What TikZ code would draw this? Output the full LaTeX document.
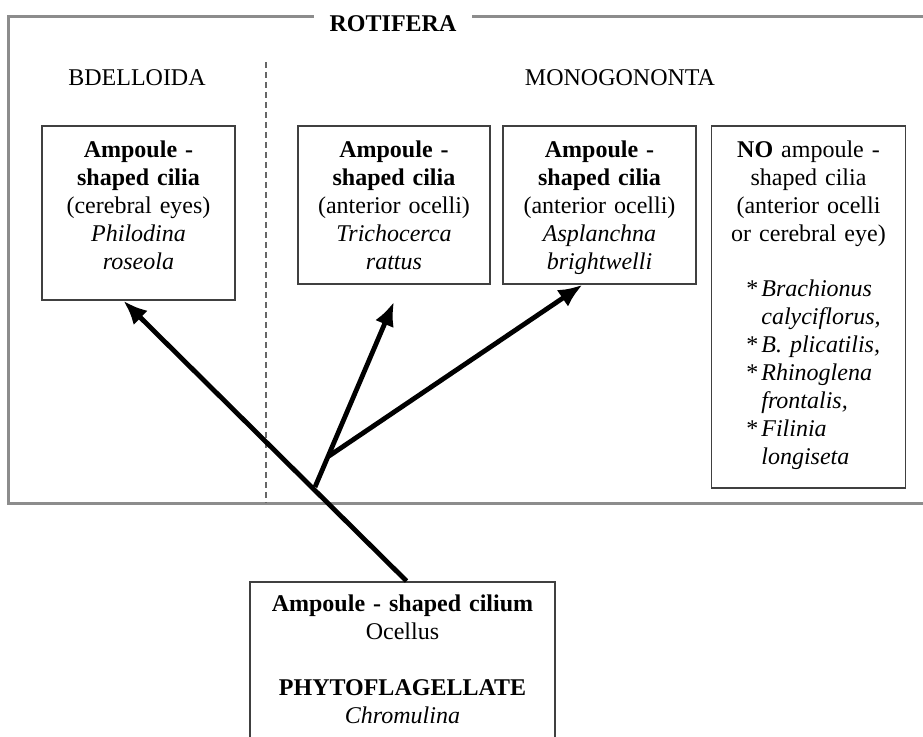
\documentclass[tikz,border=0pt]{standalone}
\usepackage{fontspec}
\setmainfont{Liberation Serif}
\usetikzlibrary{arrows.meta}

\newcommand{\spp}{\makebox[7.5pt][l]{*}}
\newcommand{\nospp}{\hspace*{7.5pt}}

\begin{document}
\begin{tikzpicture}[x=0.5pt, y=-0.5pt,
    taxon/.style={draw=black!75, line width=0.9pt, align=center, inner sep=0pt,
      anchor=north, text height=16pt, font=\fontsize{12}{14}\selectfont},
    grouptext/.style={font=\fontsize{12}{14}\selectfont},
    frameline/.style={draw=black!45, line width=1.5pt},
    branch/.style={line width=2.4pt, -{Latex[length=12pt, width=10pt]}}]
  \useasboundingbox (0, 0) rectangle (923, 736);

  \draw [frameline] (923, 16) to (8, 16) to (8, 503) to (923, 503);
  \node [grouptext, fill=white, inner xsep=8pt] (rotifera) at (393, 24) {\textbf{ROTIFERA}};
  \draw [dashed, dash pattern=on 3pt off 2pt, draw=black!60, line width=0.6pt] (266, 62) to (266, 503);

  \node [grouptext] (bdelloida) at (137, 78) {BDELLOIDA};
  \node [grouptext] (monogononta) at (620, 78) {MONOGONONTA};

  \node [taxon, text width=96.5pt, text depth=71pt] (philodina) at (138.5, 125)
    {\textbf{Ampoule -}\\ \textbf{shaped cilia}\\ (cerebral eyes)\\ \textit{Philodina}\\ \textit{roseola}};
  \node [taxon, text width=96pt, text depth=63pt] (trichocerca) at (394, 125)
    {\textbf{Ampoule -}\\ \textbf{shaped cilia}\\ (anterior ocelli)\\ \textit{Trichocerca}\\ \textit{rattus}};
  \node [taxon, text width=96.5pt, text depth=63pt] (asplanchna) at (599.5, 125)
    {\textbf{Ampoule -}\\ \textbf{shaped cilia}\\ (anterior ocelli)\\ \textit{Asplanchna}\\ \textit{brightwelli}};
  \node [taxon, text width=97pt, text depth=165pt] (noampoule) at (808.5, 125)
    {\textbf{NO} ampoule -\\ shaped cilia\\ (anterior ocelli\\ or cerebral eye)\\[14pt]
     \hspace*{5pt}\begin{tabular}{@{}l@{}}
       \spp\textit{Brachionus}\\
       \nospp\textit{calyciflorus,}\\
       \spp\textit{B. plicatilis,}\\
       \spp\textit{Rhinoglena}\\
       \nospp\textit{frontalis,}\\
       \spp\textit{Filinia}\\
       \nospp\textit{longiseta}
     \end{tabular}};

  \node [taxon, text width=152.5pt, text height=15pt, text depth=67pt] (chromulina) at (402.5, 581)
    {\textbf{Ampoule - shaped cilium}\\ Ocellus\\[14pt] \textbf{PHYTOFLAGELLATE}\\ \textit{Chromulina}};

  \coordinate (split) at (315, 487);
  \coordinate (fork) at (329, 456);
  \draw [branch] ([xshift=2pt]chromulina.north) to ([xshift=-7.5pt]philodina.south);
  \draw [branch] (split) to ([yshift=-8.5pt]trichocerca.south);
  \draw [branch] (fork) to ([xshift=-8.5pt]asplanchna.south);

\end{tikzpicture}
\end{document}
